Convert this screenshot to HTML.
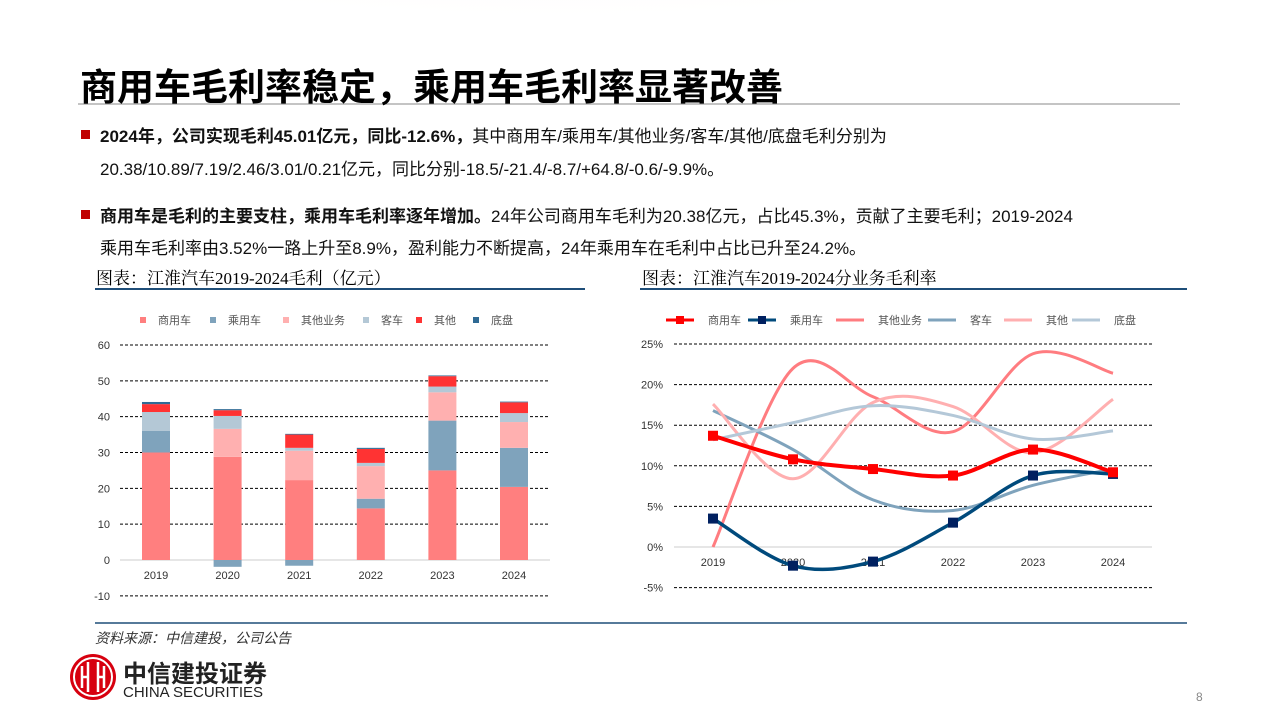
<!DOCTYPE html>
<html><head><meta charset="utf-8">
<style>
body{margin:0;width:1280px;height:720px;overflow:hidden;background:#fff;font-family:"Liberation Sans","Noto Sans CJK SC",sans-serif;position:relative}
.abs{position:absolute}
.title{left:80px;top:57px;font-size:37px;font-weight:bold;color:#000;white-space:nowrap}
.p{font-size:17px;color:#111;white-space:nowrap;left:100px}
.bul{width:9px;height:9px;background:#C00000;left:81px}
.cap{font-family:"Liberation Serif","Noto Serif CJK SC",serif;font-size:17px;color:#000;white-space:nowrap}
</style></head><body>
<svg class="abs" style="left:0;top:0" width="1280" height="720">
<defs><radialGradient id="g" cx="0.5" cy="0" r="0.6"><stop offset="0" stop-color="#F0DFC2"/><stop offset="1" stop-color="#fff" stop-opacity="0"/></radialGradient></defs>
<ellipse cx="560" cy="0" rx="560" ry="110" fill="url(#g)"/>
<line x1="78" y1="104" x2="1180" y2="104" stroke="#888" stroke-width="1"/>
<line x1="95" y1="289" x2="585" y2="289" stroke="#1F4E79" stroke-width="2"/>
<line x1="640" y1="289" x2="1187" y2="289" stroke="#1F4E79" stroke-width="2"/>
<line x1="95" y1="623" x2="1187" y2="623" stroke="#1F4E79" stroke-width="1.5"/>
</svg>
<div class="abs title">商用车毛利率稳定，乘用车毛利率显著改善</div>
<div class="abs bul" style="top:130px"></div>
<div class="abs p" style="top:122px"><b>2024年，公司实现毛利45.01亿元，同比-12.6%，</b>其中商用车/乘用车/其他业务/客车/其他/底盘毛利分别为</div>
<div class="abs p" style="top:155px">20.38/10.89/7.19/2.46/3.01/0.21亿元，同比分别-18.5/-21.4/-8.7/+64.8/-0.6/-9.9%。</div>
<div class="abs bul" style="top:210px"></div>
<div class="abs p" style="top:202px"><b>商用车是毛利的主要支柱，乘用车毛利率逐年增加。</b>24年公司商用车毛利为20.38亿元，占比45.3%，贡献了主要毛利；2019-2024</div>
<div class="abs p" style="top:234px">乘用车毛利率由3.52%一路上升至8.9%，盈利能力不断提高，24年乘用车在毛利中占比已升至24.2%。</div>
<div class="abs cap" style="left:96px;top:264px">图表：江淮汽车2019-2024毛利（亿元）</div>
<div class="abs cap" style="left:642px;top:264px">图表：江淮汽车2019-2024分业务毛利率</div>
<div class="abs" style="left:95px;top:628px;font-size:14px;font-style:italic;color:#333">资料来源：中信建投，公司公告</div>
<svg class="abs" style="left:68px;top:652px" width="50" height="50">
<circle cx="25" cy="25" r="23" fill="#D7000F"/><circle cx="25" cy="25" r="19" fill="none" stroke="#fff" stroke-width="2"/>
<path d="M14 14v22M20 10v30M30 10v30M36 14v22M14 25h6M30 25h6" stroke="#fff" stroke-width="2.5" fill="none"/></svg>
<div class="abs" style="left:123px;top:654px;font-size:24px;font-weight:bold;color:#222;white-space:nowrap">中信建投证券</div>
<div class="abs" style="left:123px;top:684px;font-size:15px;color:#222;white-space:nowrap">CHINA SECURITIES</div>
<div class="abs" style="left:1196px;top:690px;font-size:12px;color:#888">8</div>

<svg id="bar" class="abs" style="left:0;top:0" width="1280" height="720"></svg>
<svg id="line" class="abs" style="left:0;top:0" width="1280" height="720"></svg>
<script>
const years=["2019","2020","2021","2022","2023","2024"];
const seriesNames=["商用车","乘用车","其他业务","客车","其他","底盘"];
const barCommercial=[30,28.8,22.3,14.4,25,20.4];
const barPassenger=[6,-1.9,-1.6,2.7,13.9,10.9];
const barOtherBiz=[0,7.8,8.2,9.1,7.9,7.2];
const barBus=[5.3,3.6,0.8,0.9,1.6,2.5];
const barOther=[2.2,1.6,3.7,3.9,2.9,3.0];
const barChassis=[0.6,0.3,0.2,0.3,0.2,0.2];
const barTicks=[60,50,40,30,20,10,0,-10];
const mCommercial=[13.7,10.8,9.6,8.8,12.0,9.2];
const mPassenger=[3.5,-2.3,-1.8,3.0,8.8,9.0];
const mOtherBiz=[0,22,18.5,14.2,23.8,21.4];
const mBus=[16.8,12.0,5.8,4.5,7.6,9.6];
const mOther=[17.6,8.4,17.8,17.3,11.6,18.2];
const mChassis=[13.2,15.3,17.4,16.2,13.3,14.3];
const lineTicks=[25,20,15,10,5,0,-5];
const NS="http://www.w3.org/2000/svg";
function mk(p,t,a){const e=document.createElementNS(NS,t);for(const k in a)e.setAttribute(k,a[k]);p.appendChild(e);return e;}
const B=document.getElementById('bar');
const by=v=>560-v*(215/60), bx=i=>156+i*71.6;
const barColors=["#FF7F7F","#7FA3BC","#FFB0B0","#B4C8D6","#FF3333","#2F6A94"];
barTicks.forEach(t=>{
 const l=mk(B,'line',{x1:120,x2:550,y1:by(t),y2:by(t),stroke:t==0?'#ccc':'#000','stroke-dasharray':t==0?'':'3,2','stroke-width':1});
 
 const tx=mk(B,'text',{x:110,y:by(t)+4,'text-anchor':'end','font-size':11,fill:'#333'});tx.textContent=t;
 
});
const barSeries=[barCommercial,barPassenger,barOtherBiz,barBus,barOther,barChassis];
years.forEach((y,i)=>{
 let pos=0,neg=0;
 barSeries.forEach((s,k)=>{const v=s[i];let y0,y1;
  if(v>=0){y0=pos;y1=pos+v;pos=y1;}else{y0=neg+v;y1=neg;neg=y0;}
  const r=mk(B,'rect',{x:bx(i)-14,y:by(y1),width:28,height:Math.max(0,by(y0)-by(y1)),fill:barColors[k]});
  });
 const tx=mk(B,'text',{x:bx(i),y:579,'text-anchor':'middle','font-size':11,fill:'#333'});tx.textContent=y;
 
});
const blx=[140,210,283,363,416,473];
seriesNames.forEach((n,k)=>{
 const r=mk(B,'rect',{x:blx[k],y:317,width:6,height:6,fill:barColors[k]});
 
 const t=mk(B,'text',{x:blx[k]+18,y:324,'font-size':11,fill:'#555'});t.textContent=n;
 
});
const L=document.getElementById('line');
const ly=v=>547-v*(203/25), lx=i=>713+i*80;
lineTicks.forEach(t=>{
 const l=mk(L,'line',{x1:674,x2:1152,y1:ly(t),y2:ly(t),stroke:t==0?'#ccc':'#000','stroke-dasharray':t==0?'':'3,2','stroke-width':1});
 
 const tx=mk(L,'text',{x:663,y:ly(t)+4,'text-anchor':'end','font-size':11,fill:'#333'});tx.textContent=t+'%';
 
});
years.forEach((y,i)=>{const tx=mk(L,'text',{x:lx(i),y:566,'text-anchor':'middle','font-size':11,fill:'#333'});tx.textContent=y;
 });
function smooth(vals){const p=vals.map((v,i)=>[lx(i),ly(v)]);let d='M'+p[0][0]+','+p[0][1];
 for(let i=0;i<p.length-1;i++){const p0=p[i-1]||p[i],p1=p[i],p2=p[i+1],p3=p[i+2]||p2;
  const c1=[p1[0]+(p2[0]-p0[0])/6,p1[1]+(p2[1]-p0[1])/6],c2=[p2[0]-(p3[0]-p1[0])/6,p2[1]-(p3[1]-p1[1])/6];
  d+=' C'+c1+' '+c2+' '+p2;}return d;}
const lineSeries=[mOtherBiz,mBus,mOther,mChassis,mPassenger,mCommercial];
const lineIdx=[2,3,4,5,1,0];
const lineColors=["#FF0000","#004A7C","#FF7C80","#7FA3BC","#FFAFB0","#B4C8D8"];
const lineWidths=[4,3.5,3,3,3,3];
lineSeries.forEach((s,j)=>{const k=lineIdx[j];
 const p=mk(L,'path',{d:smooth(s),fill:'none',stroke:lineColors[k],'stroke-width':lineWidths[k]});
 
 if(k<2)s.forEach((v,i)=>{const r=mk(L,'rect',{x:lx(i)-5,y:ly(v)-5,width:10,height:10,fill:k==0?'#FF0000':'#002060'});
  });
});
const llx=[666,748,836,928,1004,1072];
seriesNames.forEach((n,k)=>{
 const l=mk(L,'line',{x1:llx[k],x2:llx[k]+28,y1:320,y2:320,stroke:lineColors[k],'stroke-width':3});
 
 if(k<2){const r=mk(L,'rect',{x:llx[k]+10,y:316,width:8,height:8,fill:k==0?'#FF0000':'#002060'});
  }
 const t=mk(L,'text',{x:llx[k]+42,y:324,'font-size':11,fill:'#555'});t.textContent=n;
 
});
</script>
</body></html>
